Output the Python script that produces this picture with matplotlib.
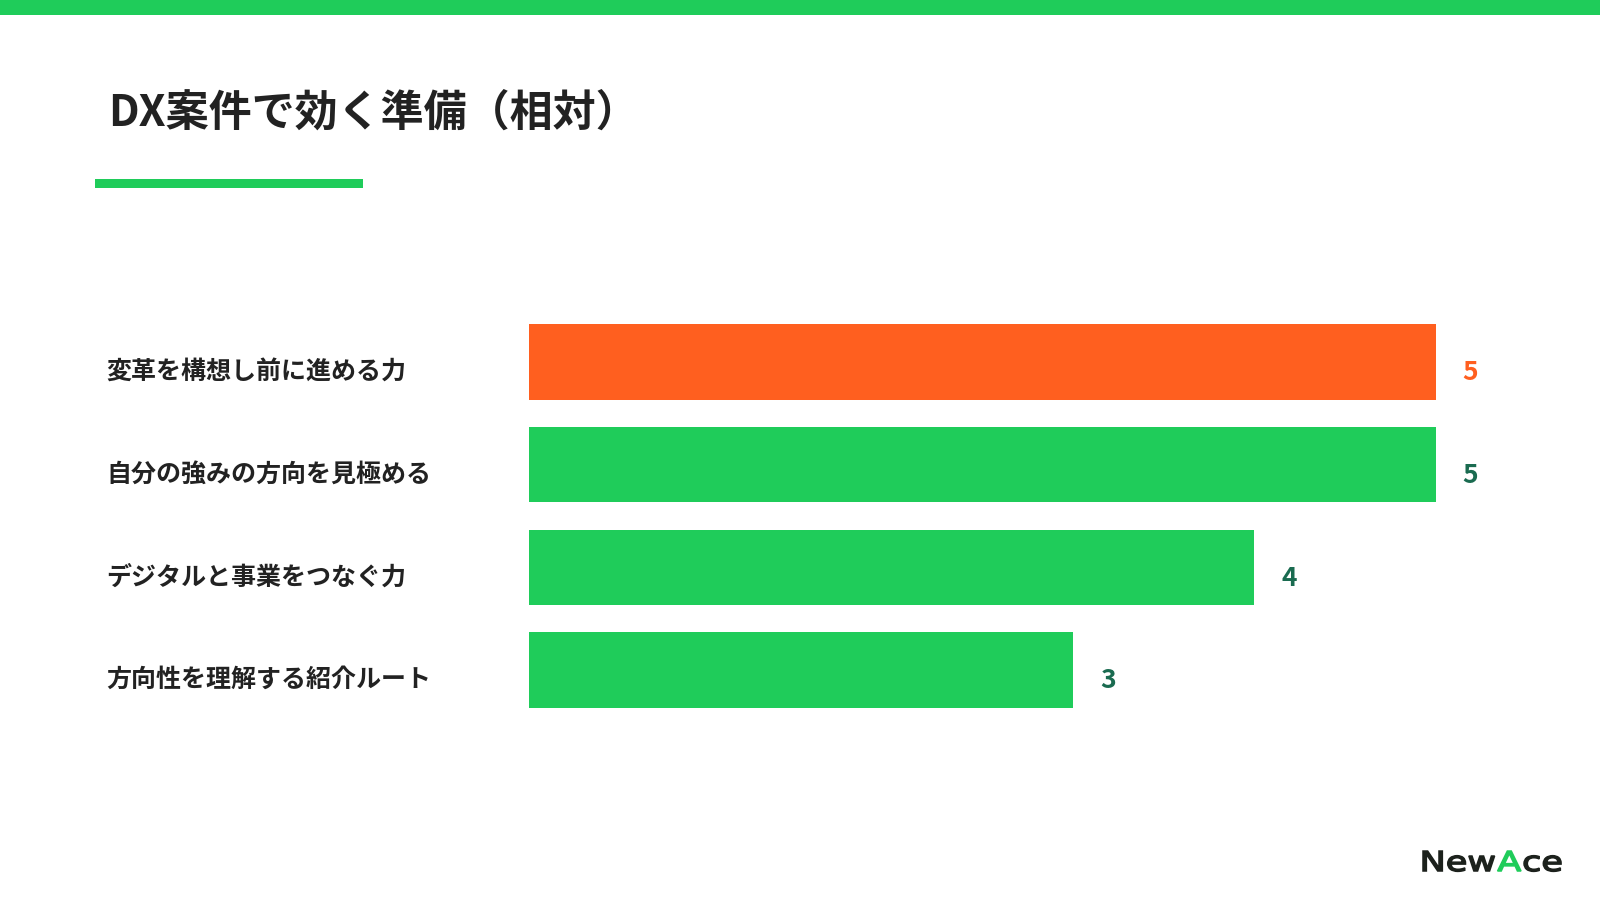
import matplotlib
matplotlib.use("Agg")
import matplotlib.pyplot as plt
from matplotlib.transforms import blended_transform_factory, Affine2D
from matplotlib.textpath import TextPath
from matplotlib.patches import PathPatch
from matplotlib.font_manager import FontProperties

plt.rcParams['font.family'] = ['Noto Sans CJK JP', 'DejaVu Sans']

# data
title = "DX案件で効く準備（相対）"
labels = ["変革を構想し前に進める力", "自分の強みの方向を見極める",
          "デジタルと事業をつなぐ力", "方向性を理解する紹介ルート"]
values = [5, 5, 4, 3]
highlight = [True, False, False, False]

GREEN = "#1fcc5a"
ORANGE = "#ff5f1f"
VAL_GREEN = "#1a6b50"
TEXT = "#222222"
LOGO_DARK = "#1c211c"

W, H = 1600, 903
fig = plt.figure(figsize=(16, 9.03), dpi=100)
fig.patch.set_facecolor("white")

# background axes in pixel coords (band, underline, logo)
bg = fig.add_axes([0, 0, 1, 1])
bg.set_xlim(0, W)
bg.set_ylim(H, 0)
bg.axis("off")
bg.add_patch(plt.Rectangle((0, 0), W, 16, color=GREEN, lw=0))
bg.add_patch(plt.Rectangle((95, 180), 268, 9, color=GREEN, lw=0))

fig.text(108 / W, 1 - 113 / H, title, fontsize=31, fontweight="bold",
         color=TEXT, va="center", ha="left")

# bar axes
ax = fig.add_axes([529 / W, 1 - 722.4 / H, 906.7 / W, 410.8 / H])
ypos = list(range(len(values)))
colors = [ORANGE if h else GREEN for h in highlight]
ax.barh(ypos, values, height=0.737, color=colors)
ax.set_xlim(0, 5)
ax.set_ylim(3.5, -0.5)
ax.axis("off")

trans = blended_transform_factory(fig.transFigure, ax.transData)
for y, lab, v, h in zip(ypos, labels, values, highlight):
    ax.text(106 / W, y + 0.088, lab, transform=trans, fontsize=18, fontweight="bold",
            color=TEXT, va="center", ha="left")
    ax.text(v + 0.148, y + 0.095, str(v), fontsize=19, fontweight="bold",
            color=ORANGE if h else VAL_GREEN, va="center", ha="left", clip_on=False)

# logo "NewAce" drawn as stretched text paths
fp = FontProperties(family="DejaVu Sans")
em = 27.4
sx = 1.28
x0, base = 1423, 872
for part, col in [("New", LOGO_DARK), ("A", GREEN), ("ce", LOGO_DARK)]:
    tp = TextPath((0, 0), part, size=em, prop=fp)
    ext = tp.get_extents()
    tr = Affine2D().scale(sx, -1).translate(x0 - ext.x0 * sx, base)
    bg.add_patch(PathPatch(tr.transform_path(tp), facecolor=col, edgecolor=col, lw=1.1))
    x0 = x0 + (ext.x1 - ext.x0) * sx + 3

fig.savefig("out.png", dpi=100, facecolor="white")
